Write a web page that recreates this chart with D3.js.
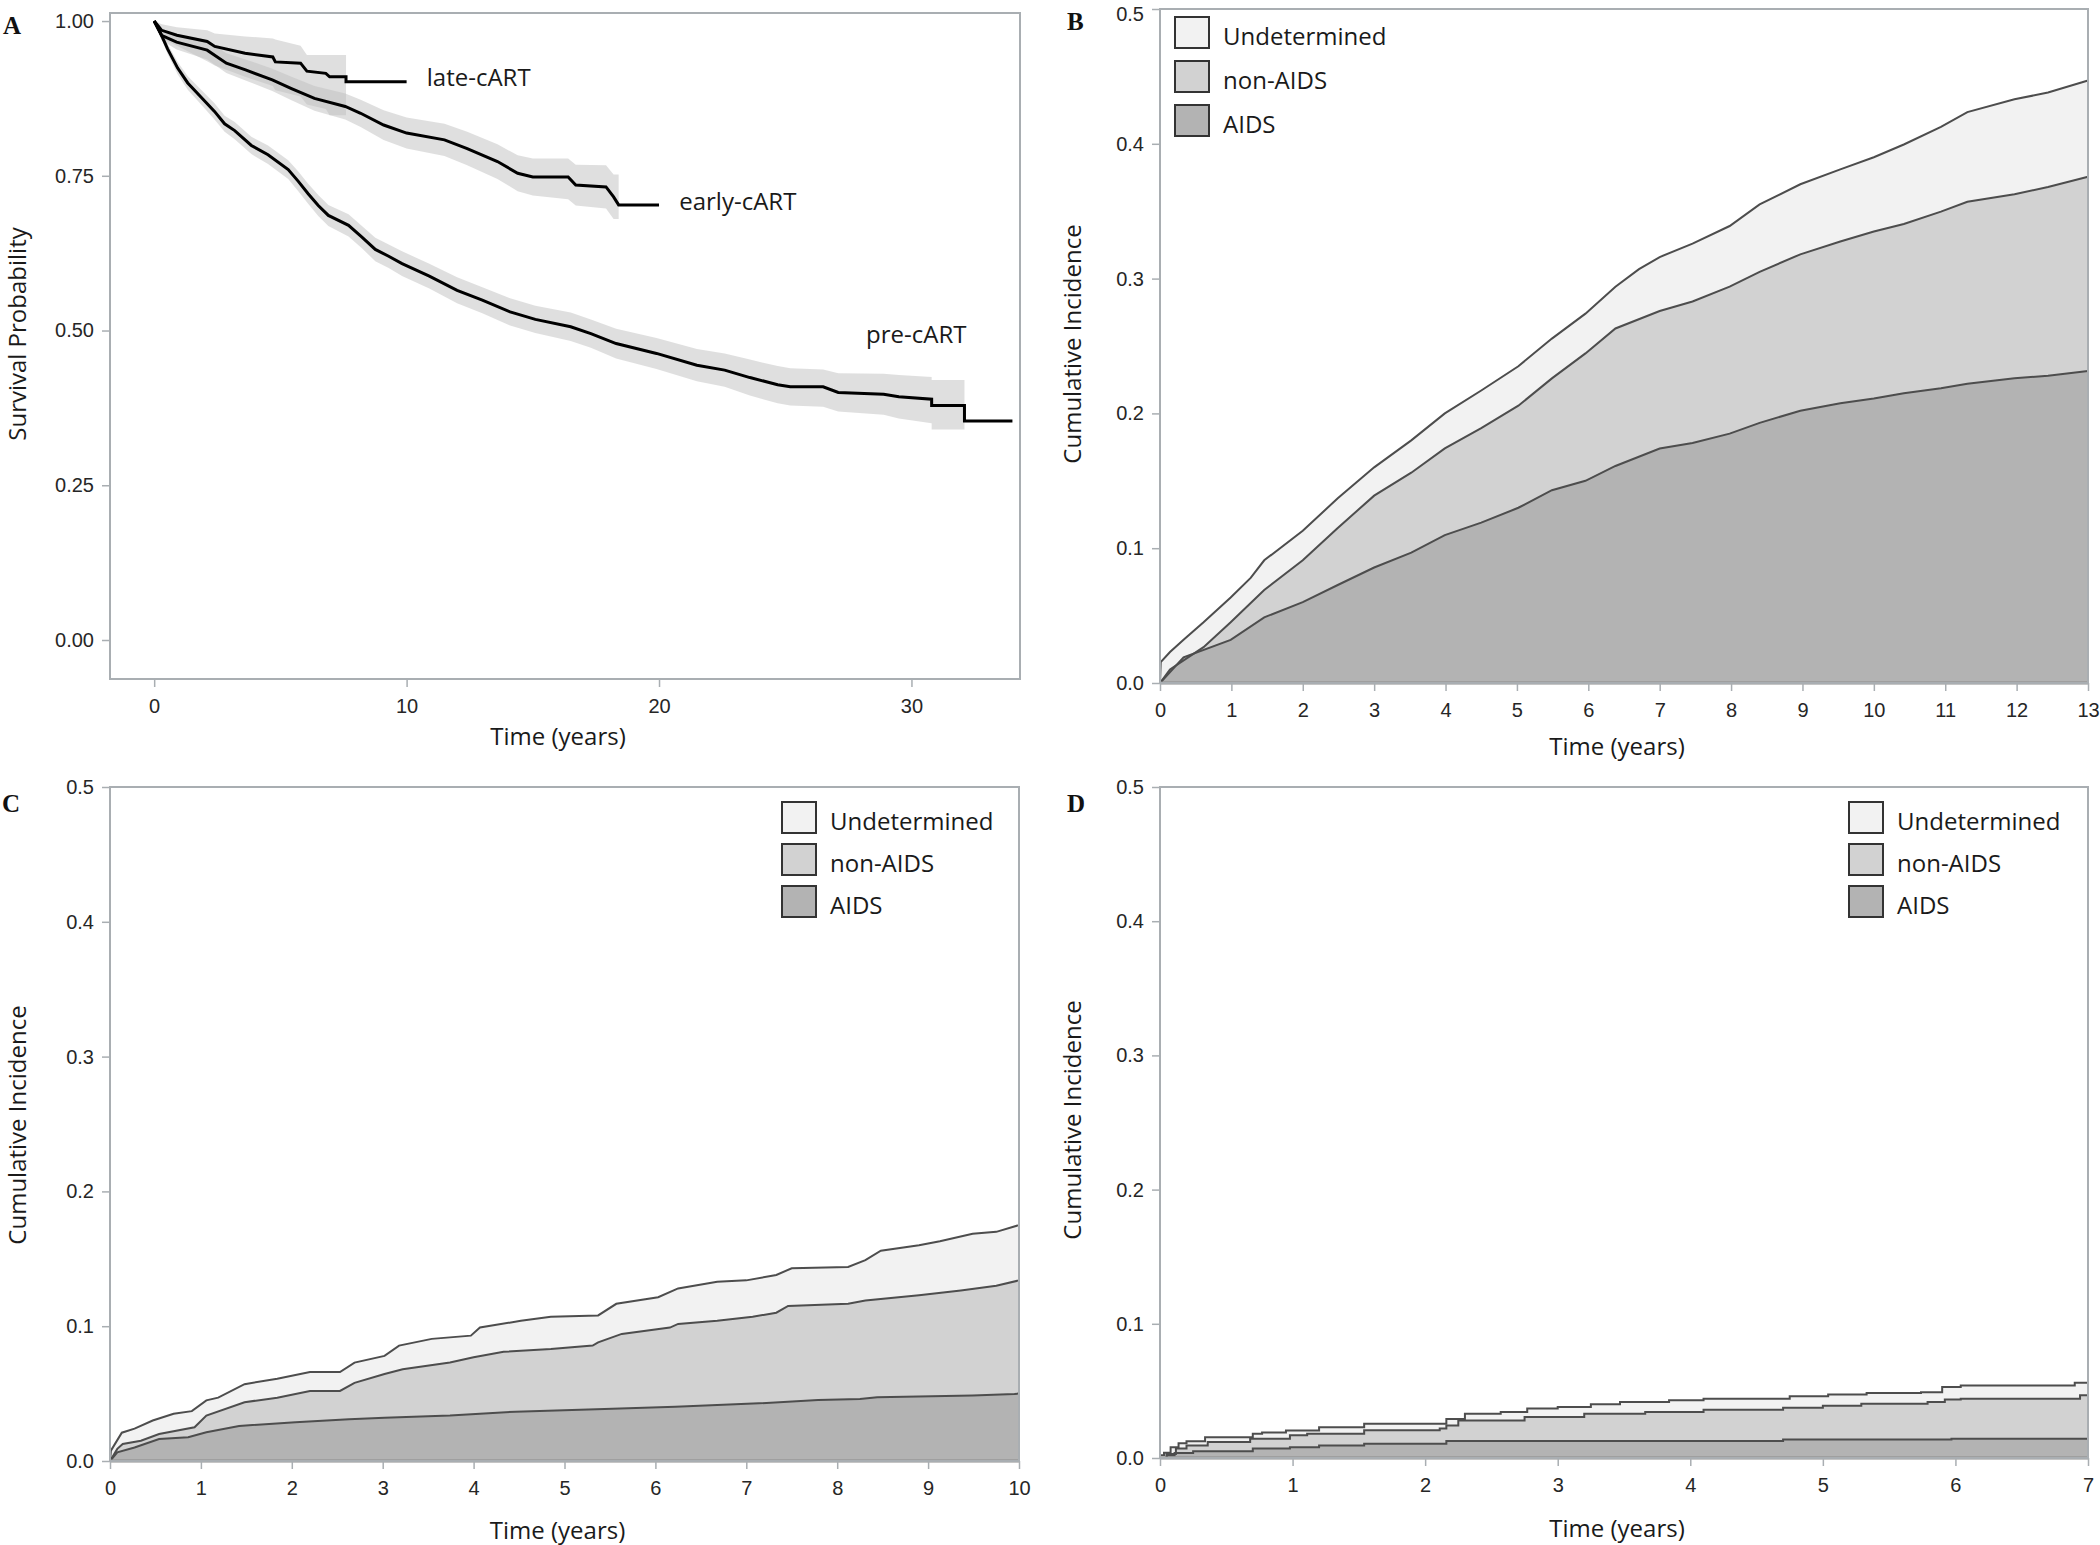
<!DOCTYPE html>
<html lang="en">
  <head>
    <meta charset="UTF-8" />
    <script src="https://d3js.org/d3.v7.min.js"></script>
    <style>
      body {
        margin: 0;
        background: #fff;
      }
      .tick text {
        font-family: "Liberation Sans", Arial, sans-serif;
        font-size: 20px;
        fill: #262626;
      }
      .tick line {
        stroke: #a9aeb2;
        stroke-width: 1.5;
      }
      .title,
      .label,
      .legend-label {
        font-family: "Open Sans", sans-serif;
        font-size: 24px;
        fill: #1a1a1a;
      }
      .letter {
        font-family: "Liberation Serif", serif;
        font-weight: bold;
        font-size: 25px;
        fill: #111;
      }
    </style>
  </head>
  <body>
    <svg id="chart" width="2100" height="1545"></svg>

    <script>
      // ---------- Panel A : Kaplan-Meier survival by era ----------
      var lateTime = [0, 0.3, 0.9, 2.1, 2.4, 3.6, 4.7, 4.8, 5.8, 6.05, 6.8, 6.95, 7.6, 7.6, 10.0];
      var lateSurv = [1.0, 0.985, 0.977, 0.967, 0.959, 0.948, 0.942, 0.934, 0.932, 0.919, 0.9155, 0.91, 0.91, 0.902, 0.902];
      var lateLower = [1.0, 0.972, 0.96, 0.935, 0.928, 0.91, 0.895, 0.888, 0.878, 0.865, 0.858, 0.848, 0.848, null, null];
      var lateUpper = [1.0, 0.995, 0.99, 0.985, 0.98, 0.975, 0.972, 0.97, 0.96, 0.945, 0.945, 0.945, 0.945, null, null];

      var earlyTime = [0, 0.29, 0.89, 2.1, 2.86, 3.62, 4.68, 5.44, 6.35, 7.57, 8.18, 9.09, 10.0, 11.5, 12.4, 13.6, 14.4, 15.0, 16.4, 16.7, 17.9, 18.2, 18.4, 20.0];
      var earlySurv = [1.0, 0.977, 0.966, 0.953, 0.932, 0.921, 0.905, 0.891, 0.875, 0.862, 0.851, 0.832, 0.819, 0.808, 0.794, 0.773, 0.754, 0.748, 0.748, 0.735, 0.732, 0.716, 0.703, 0.703];
      var earlyLower = [1.0, 0.969, 0.954, 0.938, 0.916, 0.904, 0.887, 0.872, 0.855, 0.841, 0.829, 0.808, 0.794, 0.782, 0.767, 0.745, 0.725, 0.718, 0.712, 0.702, 0.697, 0.68, 0.68, null];
      var earlyUpper = [1.0, 0.985, 0.978, 0.968, 0.948, 0.938, 0.923, 0.91, 0.895, 0.883, 0.873, 0.856, 0.844, 0.834, 0.821, 0.801, 0.783, 0.778, 0.778, 0.768, 0.767, 0.752, 0.752, null];

      var preTime = [0, 0.27, 0.53, 0.93, 1.33, 1.86, 2.39, 2.79, 3.19, 3.85, 4.51, 5.31, 5.71, 6.1, 6.5, 6.9, 7.7, 8.23, 8.76, 9.29, 9.82, 10.9, 12.0, 13.0, 14.1, 15.1, 16.5, 17.3, 18.3, 19.9, 21.5, 22.6, 23.6, 24.7, 25.2, 26.5, 27.1, 28.9, 29.5, 30.8, 30.8, 32.1, 32.1, 34.0];
      var preSurv = [1.0, 0.979, 0.955, 0.924, 0.9, 0.877, 0.854, 0.834, 0.823, 0.799, 0.784, 0.76, 0.741, 0.721, 0.702, 0.686, 0.67, 0.651, 0.631, 0.62, 0.608, 0.588, 0.565, 0.549, 0.53, 0.518, 0.506, 0.495, 0.479, 0.463, 0.444, 0.436, 0.424, 0.4125, 0.409, 0.409, 0.4, 0.397, 0.393, 0.389, 0.379, 0.379, 0.354, 0.354];
      var preLower = [1.0, 0.973, 0.947, 0.914, 0.889, 0.865, 0.841, 0.821, 0.809, 0.785, 0.769, 0.745, 0.725, 0.705, 0.685, 0.669, 0.652, 0.633, 0.612, 0.601, 0.588, 0.568, 0.544, 0.528, 0.508, 0.496, 0.483, 0.472, 0.455, 0.438, 0.418, 0.409, 0.395, 0.3825, 0.379, 0.377, 0.369, 0.364, 0.358, 0.35, 0.34, 0.34, null, null];
      var preUpper = [1.0, 0.985, 0.963, 0.934, 0.911, 0.889, 0.867, 0.847, 0.837, 0.813, 0.799, 0.775, 0.757, 0.737, 0.719, 0.703, 0.688, 0.669, 0.65, 0.639, 0.628, 0.608, 0.586, 0.57, 0.552, 0.54, 0.529, 0.518, 0.503, 0.488, 0.47, 0.463, 0.453, 0.4425, 0.439, 0.437, 0.431, 0.43, 0.428, 0.425, 0.42, 0.42, null, null];

      var eraLabels = ["late-cART", "early-cART", "pre-cART"];
      var eraLabelTime = [10.8, 20.8, 28.2];
      var eraLabelSurv = [0.909, 0.709, 0.494];

      var survTicksX = [0, 10, 20, 30];
      var survTicksY = [0, 0.25, 0.5, 0.75, 1.0];

      // ---------- Panels B-D : cumulative incidence by cause ----------
      // Each array is the stacked upper edge: all causes, AIDS + non-AIDS, AIDS only
      var causeNames = ["Undetermined", "non-AIDS", "AIDS"];
      var causeColors = ["#f2f2f2", "#d2d2d2", "#b3b3b3"];
      var incTicksY = [0, 0.1, 0.2, 0.3, 0.4, 0.5];

      var bAllTime = [0, 0.01, 0.14, 0.33, 0.61, 0.99, 1.27, 1.46, 2.0, 2.49, 3.0, 3.52, 3.99, 4.5, 5.02, 5.49, 5.96, 6.38, 6.71, 7.0, 7.46, 7.98, 8.4, 8.97, 9.53, 10.0, 10.42, 10.94, 11.31, 11.97, 12.44, 13.0];
      var bAllInc = [0, 0.0155, 0.023, 0.032, 0.045, 0.0635, 0.078, 0.091, 0.113, 0.137, 0.16, 0.18, 0.2, 0.217, 0.235, 0.2555, 0.274, 0.294, 0.307, 0.316, 0.326, 0.339, 0.355, 0.37, 0.381, 0.39, 0.3995, 0.4125, 0.4235, 0.433, 0.438, 0.447];
      var bMidTime = [0, 0.14, 0.61, 0.99, 1.46, 2.0, 2.49, 3.0, 3.52, 3.99, 4.5, 5.02, 5.49, 5.96, 6.38, 7.0, 7.46, 7.98, 8.4, 8.97, 9.53, 10.0, 10.42, 10.94, 11.31, 11.97, 12.44, 13.0];
      var bMidInc = [0, 0.01, 0.0266, 0.045, 0.069, 0.091, 0.115, 0.139, 0.156, 0.174, 0.189, 0.2057, 0.226, 0.2445, 0.263, 0.276, 0.283, 0.294, 0.305, 0.318, 0.3275, 0.335, 0.3405, 0.3497, 0.357, 0.3626, 0.368, 0.3755];
      var bAidsTime = [0, 0.33, 0.99, 1.46, 2.0, 2.49, 3.0, 3.52, 3.99, 4.5, 5.02, 5.49, 5.96, 6.38, 7.0, 7.46, 7.98, 8.4, 8.97, 9.53, 10.0, 10.42, 10.94, 11.31, 11.97, 12.44, 13.0];
      var bAidsInc = [0, 0.019, 0.032, 0.0487, 0.06, 0.0727, 0.0857, 0.0967, 0.1097, 0.119, 0.13, 0.143, 0.15, 0.161, 0.174, 0.178, 0.185, 0.193, 0.202, 0.2075, 0.211, 0.215, 0.2186, 0.222, 0.226, 0.228, 0.2315];

      var cAllTime = [0, 0.01, 0.13, 0.27, 0.47, 0.7, 0.9, 1.06, 1.19, 1.48, 1.84, 2.2, 2.53, 2.69, 3.02, 3.18, 3.54, 3.97, 4.07, 4.52, 4.85, 5.37, 5.57, 6.03, 6.25, 6.68, 7.0, 7.33, 7.5, 8.12, 8.31, 8.48, 8.9, 9.13, 9.49, 9.75, 10.0];
      var cAllInc = [0, 0.0077, 0.021, 0.024, 0.03, 0.035, 0.037, 0.045, 0.047, 0.057, 0.061, 0.066, 0.066, 0.073, 0.078, 0.0856, 0.0906, 0.093, 0.099, 0.104, 0.107, 0.108, 0.1166, 0.1215, 0.128, 0.133, 0.134, 0.138, 0.143, 0.144, 0.149, 0.156, 0.16, 0.163, 0.1686, 0.17, 0.175];
      var cMidTime = [0, 0.08, 0.14, 0.34, 0.54, 0.93, 1.06, 1.48, 1.84, 2.2, 2.53, 2.69, 3.02, 3.22, 3.74, 4.0, 4.33, 4.85, 5.31, 5.37, 5.63, 6.16, 6.25, 6.68, 7.07, 7.33, 7.46, 8.12, 8.31, 8.9, 9.36, 9.75, 10.0];
      var cMidInc = [0, 0.009, 0.0126, 0.015, 0.02, 0.025, 0.0337, 0.0436, 0.047, 0.052, 0.052, 0.058, 0.0646, 0.068, 0.073, 0.077, 0.081, 0.083, 0.0856, 0.088, 0.0943, 0.099, 0.1017, 0.104, 0.107, 0.11, 0.115, 0.1166, 0.119, 0.123, 0.1265, 0.13, 0.134];
      var cAidsTime = [0, 0.08, 0.27, 0.54, 0.86, 1.06, 1.42, 2.04, 2.63, 3.02, 3.74, 4.46, 5.44, 6.22, 7.14, 7.79, 8.25, 8.44, 9.49, 9.95, 10.0];
      var cAidsInc = [0, 0.0064, 0.01, 0.0163, 0.0176, 0.0213, 0.026, 0.0287, 0.031, 0.032, 0.0337, 0.0366, 0.0386, 0.0403, 0.0428, 0.0453, 0.046, 0.0473, 0.0485, 0.0497, 0.05];

      var dAllTime = [0, 0.03, 0.08, 0.14, 0.2, 0.34, 0.7, 0.77, 0.95, 1.2, 1.54, 2.16, 2.3, 2.57, 2.77, 3.0, 3.25, 3.47, 3.84, 4.1, 4.75, 5.04, 5.33, 5.74, 5.9, 6.04, 6.9, 7.0];
      var dAllInc = [0.002, 0.004, 0.008, 0.011, 0.0125, 0.0155, 0.018, 0.019, 0.0205, 0.023, 0.0256, 0.029, 0.033, 0.0343, 0.0368, 0.038, 0.04, 0.0417, 0.043, 0.0442, 0.046, 0.0474, 0.0484, 0.049, 0.0529, 0.054, 0.056, 0.056];
      var dMidTime = [0, 0.05, 0.12, 0.2, 0.36, 0.68, 0.98, 1.11, 1.54, 2.11, 2.16, 2.25, 2.75, 3.2, 3.66, 4.1, 4.7, 5.0, 5.29, 5.79, 5.92, 6.04, 6.94, 7.0];
      var dMidInc = [0, 0.003, 0.007, 0.0094, 0.012, 0.0144, 0.017, 0.018, 0.0206, 0.022, 0.0243, 0.028, 0.0305, 0.033, 0.0343, 0.036, 0.0375, 0.039, 0.0405, 0.0417, 0.0435, 0.0442, 0.0467, 0.0467];
      var dAidsTime = [0, 0.05, 0.11, 0.25, 0.7, 0.98, 1.2, 1.54, 2.16, 4.7, 5.97, 7.0];
      var dAidsInc = [0, 0.002, 0.0037, 0.005, 0.007, 0.008, 0.0094, 0.0107, 0.0127, 0.0137, 0.0144, 0.0144];

      var svg = d3.select("#chart");
      var frameColor = "#a9aeb2";

      function zip(times, values) {
        return times.map(function (t, i) {
          return { t: t, v: values[i] };
        });
      }

      // Frame, ticks, axis titles and panel letter shared by all four panels
      function drawFrame(p) {
        var g = svg.append("g");
        var x0 = p.x.range()[0], x1 = p.x.range()[1];
        var y0 = p.y.range()[0], y1 = p.y.range()[1];

        g.append("g")
          .attr("transform", "translate(0," + y0 + ")")
          .call(d3.axisBottom(p.x).tickValues(p.xTicks).tickSize(8).tickPadding(12).tickFormat(d3.format("d")))
          .call(function (a) { a.select(".domain").remove(); });

        g.append("g")
          .attr("transform", "translate(" + x0 + ",0)")
          .call(d3.axisLeft(p.y).tickValues(p.yTicks).tickSize(8).tickPadding(8).tickFormat(d3.format(p.yFormat)))
          .call(function (a) { a.select(".domain").remove(); })
          .selectAll(".tick text")
          .filter(function (d) { return p.y(d) < 14; })
          .attr("dy", "0.55em"); // keep the top label inside the page

        g.append("rect")
          .attr("x", x0)
          .attr("y", y1)
          .attr("width", x1 - x0)
          .attr("height", y0 - y1)
          .attr("fill", "none")
          .attr("stroke", frameColor)
          .attr("stroke-width", 2);

        // x-axis title
        g.append("text")
          .attr("class", "title")
          .attr("x", (x0 + x1) / 2 - 7)
          .attr("y", y0 + p.xTitleGap)
          .attr("text-anchor", "middle")
          .text("Time (years)");

        // y-axis title
        g.append("text")
          .attr("class", "title")
          .attr("transform", "translate(" + p.yTitleX + "," + p.yTitleY + ") rotate(-90)")
          .attr("text-anchor", "middle")
          .attr("dy", "0.35em")
          .text(p.yTitle);

        g.append("text")
          .attr("class", "letter")
          .attr("x", p.letterX)
          .attr("y", p.letterY)
          .text(p.letter);
      }

      // ---------- Panel A ----------
      var xA = d3.scaleLinear().domain([-1.75, 34.3]).range([110, 1020]);
      var yA = d3.scaleLinear().domain([-0.063, 1.013]).range([679, 13]);

      var eras = [
        { time: lateTime, surv: lateSurv, lo: lateLower, hi: lateUpper },
        { time: earlyTime, surv: earlySurv, lo: earlyLower, hi: earlyUpper },
        { time: preTime, surv: preSurv, lo: preLower, hi: preUpper }
      ];
      eras.forEach(function (e) {
        e.points = e.time.map(function (t, i) {
          return { t: t, s: e.surv[i], lo: e.lo[i], hi: e.hi[i] };
        });
      });

      var bandA = d3.area()
        .defined(function (d) { return d.lo != null; })
        .x(function (d) { return xA(d.t); })
        .y0(function (d) { return yA(d.lo); })
        .y1(function (d) { return yA(d.hi); });

      var lineA = d3.line()
        .x(function (d) { return xA(d.t); })
        .y(function (d) { return yA(d.s); });

      svg.append("g")
        .selectAll("path")
        .data(eras)
        .enter()
        .append("path")
        .attr("d", function (d) { return bandA(d.points); })
        .attr("fill", "#bfbfbf")
        .attr("fill-opacity", 0.5);

      svg.append("g")
        .selectAll("path")
        .data(eras)
        .enter()
        .append("path")
        .attr("d", function (d) { return lineA(d.points); })
        .attr("fill", "none")
        .attr("stroke", "#000")
        .attr("stroke-width", 3);

      svg.append("g")
        .selectAll("text")
        .data(eraLabels)
        .enter()
        .append("text")
        .attr("class", "label")
        .attr("x", function (d, i) { return xA(eraLabelTime[i]); })
        .attr("y", function (d, i) { return yA(eraLabelSurv[i]); })
        .attr("dy", "0.35em")
        .text(function (d) { return d; });

      drawFrame({
        x: xA, y: yA, xTicks: survTicksX, yTicks: survTicksY, yFormat: ".2f",
        xTitleGap: 66, yTitle: "Survival Probability", yTitleX: 18, yTitleY: 334,
        letter: "A", letterX: 3, letterY: 34
      });

      // ---------- Panels B, C, D ----------
      function drawIncidence(p) {
        var layers = [zip(p.all[0], p.all[1]), zip(p.mid[0], p.mid[1]), zip(p.aids[0], p.aids[1])];

        var area = d3.area()
          .curve(p.curve)
          .x(function (d) { return p.x(d.t); })
          .y0(p.y(0))
          .y1(function (d) { return p.y(d.v); });
        var line = d3.line()
          .curve(p.curve)
          .x(function (d) { return p.x(d.t); })
          .y(function (d) { return p.y(d.v); });

        var g = svg.append("g");
        g.selectAll("path.area")
          .data(layers)
          .enter()
          .append("path")
          .attr("class", "area")
          .attr("d", area)
          .attr("fill", function (d, i) { return causeColors[i]; });

        g.selectAll("path.edge")
          .data(layers)
          .enter()
          .append("path")
          .attr("class", "edge")
          .attr("d", line)
          .attr("fill", "none")
          .attr("stroke", "#4d4d4d")
          .attr("stroke-width", 2);

        drawFrame({
          x: p.x, y: p.y, xTicks: p.xTicks, yTicks: incTicksY, yFormat: ".1f",
          xTitleGap: p.xTitleGap, yTitle: "Cumulative Incidence", yTitleX: p.yTitleX, yTitleY: p.yTitleY,
          letter: p.letter, letterX: p.letterX, letterY: p.letterY
        });

        // baseline under the stacked areas
        g.append("line")
          .attr("x1", p.x.range()[0])
          .attr("x2", p.x.range()[1])
          .attr("y1", p.y(0))
          .attr("y2", p.y(0))
          .attr("stroke", "#8c8c8c")
          .attr("stroke-width", 3);

        // legend
        var legend = svg.append("g")
          .selectAll("g")
          .data(causeNames)
          .enter()
          .append("g")
          .attr("transform", function (d, i) {
            return "translate(" + p.legendX + "," + (p.legendY + i * p.legendStep) + ")";
          });
        legend.append("rect")
          .attr("width", 34)
          .attr("height", 31)
          .attr("fill", function (d, i) { return causeColors[i]; })
          .attr("stroke", "#333")
          .attr("stroke-width", 2);
        legend.append("text")
          .attr("class", "legend-label")
          .attr("x", 48)
          .attr("y", 20)
          .attr("dy", "0.35em")
          .text(function (d) { return d; });
      }

      var xB = d3.scaleLinear().domain([0, 13]).range([1160, 2088]);
      var yB = d3.scaleLinear().domain([0, 0.5]).range([683, 9]);
      drawIncidence({
        x: xB, y: yB, xTicks: d3.range(0, 14), curve: d3.curveLinear,
        all: [bAllTime, bAllInc], mid: [bMidTime, bMidInc], aids: [bAidsTime, bAidsInc],
        xTitleGap: 72, yTitleX: 1073, yTitleY: 344,
        letter: "B", letterX: 1067, letterY: 30,
        legendX: 1175, legendY: 17, legendStep: 44
      });

      var xC = d3.scaleLinear().domain([0, 10]).range([110, 1019]);
      var yC = d3.scaleLinear().domain([0, 0.5]).range([1461, 787]);
      drawIncidence({
        x: xC, y: yC, xTicks: d3.range(0, 11), curve: d3.curveLinear,
        all: [cAllTime, cAllInc], mid: [cMidTime, cMidInc], aids: [cAidsTime, cAidsInc],
        xTitleGap: 78, yTitleX: 18, yTitleY: 1125,
        letter: "C", letterX: 2, letterY: 812,
        legendX: 782, legendY: 802, legendStep: 42
      });

      var xD = d3.scaleLinear().domain([0, 7]).range([1160, 2088]);
      var yD = d3.scaleLinear().domain([0, 0.5]).range([1458, 787]);
      drawIncidence({
        x: xD, y: yD, xTicks: d3.range(0, 8), curve: d3.curveStepAfter,
        all: [dAllTime, dAllInc], mid: [dMidTime, dMidInc], aids: [dAidsTime, dAidsInc],
        xTitleGap: 79, yTitleX: 1073, yTitleY: 1120,
        letter: "D", letterX: 1067, letterY: 812,
        legendX: 1849, legendY: 802, legendStep: 42
      });
    </script>
  </body>
</html>
